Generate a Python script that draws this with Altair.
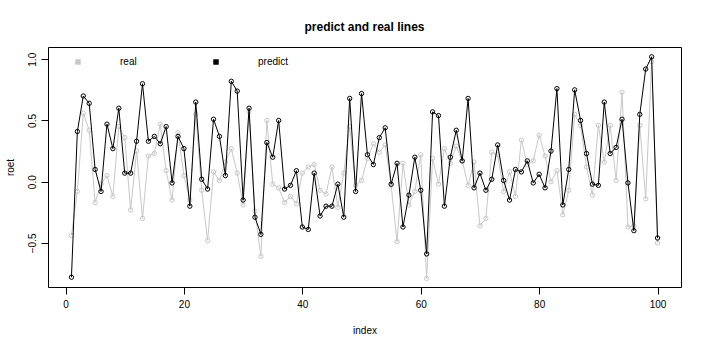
import altair as alt
import pandas as pd

index = list(range(1, 101))

real = [
    -0.44, -0.08, 0.56, 0.42, -0.17, -0.02, 0.05, -0.12, 0.45, 0.36,
    -0.23, 0.25, -0.30, 0.21, 0.23, 0.47, 0.09, -0.15, 0.40, 0.05,
    -0.15, 0.55, -0.07, -0.48, 0.08, 0.01, 0.16, 0.27, 0.07, -0.19,
    0.57, -0.24, -0.61, 0.50, -0.02, -0.05, -0.17, -0.12, -0.18, 0.07,
    0.12, 0.14, -0.07, -0.10, 0.12, -0.21, 0.07, 0.45, -0.03, 0.01,
    0.19, 0.31, 0.24, 0.30, -0.03, -0.49, 0.15, -0.19, -0.08, 0.22,
    -0.79, 0.19, -0.02, 0.27, 0.15, 0.29, 0.17, -0.03, 0.16, -0.36,
    -0.30, 0.24, 0.22, -0.08, 0.08, -0.12, 0.34, 0.14, 0.17, 0.38,
    0.21, 0.00, 0.09, -0.27, -0.07, 0.55, 0.46, 0.12, -0.11, 0.46,
    0.16, 0.46, 0.01, 0.73, -0.37, -0.36, 0.46, -0.14, 0.98, -0.50,
]

predict = [
    -0.78, 0.41, 0.70, 0.64, 0.10, -0.08, 0.47, 0.27, 0.60, 0.07,
    0.07, 0.33, 0.80, 0.33, 0.37, 0.31, 0.45, -0.01, 0.37, 0.27,
    -0.20, 0.65, 0.02, -0.06, 0.51, 0.37, 0.05, 0.82, 0.74, -0.15,
    0.60, -0.29, -0.43, 0.32, 0.20, 0.50, -0.06, -0.03, 0.09, -0.37,
    -0.39, 0.07, -0.28, -0.20, -0.20, -0.02, -0.29, 0.68, -0.08, 0.72,
    0.22, 0.14, 0.36, 0.44, -0.02, 0.15, -0.37, -0.11, 0.20, -0.07,
    -0.59, 0.57, 0.54, -0.20, 0.20, 0.42, 0.17, 0.68, -0.05, 0.07,
    -0.07, 0.02, 0.30, 0.01, -0.15, 0.10, 0.08, 0.17, -0.01, 0.06,
    -0.05, 0.25, 0.76, -0.19, 0.10, 0.75, 0.50, 0.23, -0.02, -0.03,
    0.65, 0.23, 0.28, 0.51, -0.01, -0.40, 0.55, 0.92, 1.02, -0.46,
]

series_names = ["real", "predict"]
series_colors = ["#c8c8c8", "#000000"]
x_ticks = [0, 20, 40, 60, 80, 100]
y_ticks = [-0.5, 0.0, 0.5, 1.0]

df = pd.DataFrame({
    "index": index * 2,
    "roet": real + predict,
    "series": ["real"] * len(real) + ["predict"] * len(predict),
})

FONT = "Liberation Sans"

xscale = alt.Scale(domain=[-2.96, 103.96], nice=False, zero=False)
yscale = alt.Scale(domain=[-0.86, 1.10], nice=False, zero=False)
cscale = alt.Scale(domain=series_names, range=series_colors)

xaxis = alt.Axis(values=x_ticks, grid=False, domain=False, tickColor="black",
                 tickSize=7, labelFont=FONT, labelFontSize=10, labelColor="black",
                 labelPadding=5, title="index", titleFont=FONT, titleFontSize=10,
                 titleFontWeight="normal", titleColor="black", titlePadding=16,
                 labelFlush=False)
yaxis = alt.Axis(values=y_ticks, grid=False, domain=False, tickColor="black",
                 tickSize=7, labelFont=FONT, labelFontSize=10, labelColor="black",
                 labelAngle=270, labelAlign="center", labelBaseline="bottom",
                 labelPadding=4, format=".1f", title="roet", titleFont=FONT,
                 titleFontSize=10, titleFontWeight="normal", titleColor="black",
                 titlePadding=12)

layers = []
for name in series_names:
    sub = alt.Chart(df).transform_filter(alt.datum.series == name)
    enc = dict(
        x=alt.X("index:Q", scale=xscale, axis=xaxis),
        y=alt.Y("roet:Q", scale=yscale, axis=yaxis),
        color=alt.Color("series:N", scale=cscale, legend=None),
    )
    layers.append(sub.mark_line(strokeWidth=1).encode(**enc))
    layers.append(sub.mark_point(filled=False, size=19, strokeWidth=1, opacity=1).encode(**enc))

legend_layer = alt.Chart(df).transform_filter("false").mark_square(opacity=1).encode(
    x=alt.X("index:Q", scale=xscale, axis=xaxis),
    y=alt.Y("roet:Q", scale=yscale, axis=yaxis),
    color=alt.Color("series:N", scale=cscale, legend=alt.Legend(
        title=None, orient="none", legendX=25, legendY=10, direction="horizontal",
        symbolType="square", symbolSize=30, symbolStrokeWidth=0,
        labelOffset=37, columnPadding=74, labelFont=FONT, labelFontSize=10,
        labelColor="black", padding=0)),
)

chart = alt.layer(legend_layer, *layers).properties(
    width=633, height=240,
    title=alt.TitleParams("predict and real lines", font=FONT, fontSize=12,
                          fontWeight="bold", color="black", anchor="middle", offset=13),
    autosize=alt.AutoSizeParams(type="none"),
    padding={"left": 48, "top": 47, "right": 25, "bottom": 64},
    background="white",
).configure_view(stroke="black", strokeWidth=1)

chart.save("out.html", embed_options={"renderer": "svg", "actions": False})
